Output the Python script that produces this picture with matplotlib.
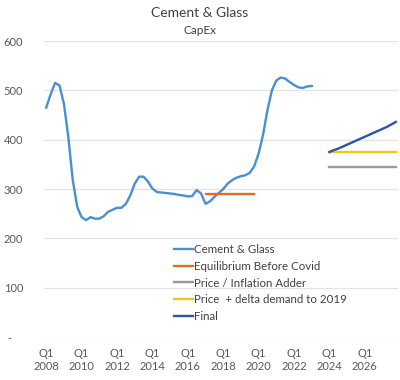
import matplotlib
matplotlib.use("Agg")
import matplotlib.pyplot as plt
import numpy as np

plt.rcParams['font.family'] = ['Lato', 'DejaVu Sans']

# quarterly categories Q1 2008 .. Q4 2027
years = list(range(2008, 2028))
quarters = ["Q{}\n{}".format(q, y) for y in years for q in range(1, 5)]

# Cement & Glass, Q1 2008 .. Q1 2023
cement_glass = [465, 492, 515, 510, 473, 405, 318, 264, 243, 237, 243, 240, 240, 245,
                254, 258, 262, 262, 270, 287, 311, 325, 325, 315, 301, 294, 293, 292,
                291, 290, 288, 287, 285, 286, 298, 291, 270, 275, 284, 292, 300, 311,
                318, 323, 326, 328, 333, 346, 372, 410, 460, 500, 520, 526, 524, 517,
                511, 506, 505, 508, 509]
cement_start = 0

# Equilibrium before Covid, Q1 2017 .. Q4 2019
equilibrium = [289] * 12
equilibrium_start = 36

# forecasts, Q1 2024 .. Q4 2027
inflation_adder = [345] * 16
delta_demand = [375] * 16
final = [375, 379, 382, 386, 390, 394, 398, 402, 406, 410, 414, 418, 422, 426, 431, 436]
forecast_start = 64

y_ticks = [0, 100, 200, 300, 400, 500, 600]
y_labels = ['-    ', '100', '200', '300', '400', '500', '600']

fig = plt.figure(figsize=(4, 3.8), dpi=100)
ax = fig.add_axes([0.11, 0.113, 0.885, 0.779])

def xs(start, vals):
    return np.arange(start, start + len(vals))

ax.plot(xs(cement_start, cement_glass), cement_glass, color='#4a8fd0', lw=1.7, label='Cement & Glass')
ax.plot(xs(equilibrium_start, equilibrium), equilibrium, color='#e36c1f', lw=1.7, label='Equilibrium Before Covid')
ax.plot(xs(forecast_start, inflation_adder), inflation_adder, color='#9a9a9a', lw=1.7, label='Price / Inflation Adder')
ax.plot(xs(forecast_start, delta_demand), delta_demand, color='#f5c518', lw=1.7, label='Price  + delta demand to 2019')
ax.plot(xs(forecast_start, final), final, color='#2a55a8', lw=1.7, label='Final')

ax.set_xlim(-0.5, len(quarters) - 0.5)
ax.set_ylim(0, 600)
tick_pos = list(range(0, len(quarters), 8))
ax.set_xticks(tick_pos)
ax.set_xticklabels([quarters[i] for i in tick_pos], fontsize=8, color='#595959')
ax.set_yticks(y_ticks)
ax.set_yticklabels(y_labels, fontsize=8, color='#595959')
ax.tick_params(axis='x', length=0, pad=8)
ax.tick_params(axis='y', length=0, pad=15)
ax.grid(axis='y', color='#e3e3e3', lw=0.9)
ax.set_axisbelow(True)
for s in ax.spines.values():
    s.set_visible(False)

fig.text(0.5, 0.965, 'Cement & Glass', ha='center', va='center', fontsize=10, color='#404040')
fig.text(0.5, 0.92, 'CapEx', ha='center', va='center', fontsize=8.5, color='#404040')

ax.legend(loc='upper left', bbox_to_anchor=(0.355, 0.33), frameon=False, fontsize=8.3,
          handlelength=1.6, handletextpad=0.15, labelspacing=0.5, labelcolor='#404040',
          borderaxespad=0)

fig.savefig('out.png', dpi=100)
